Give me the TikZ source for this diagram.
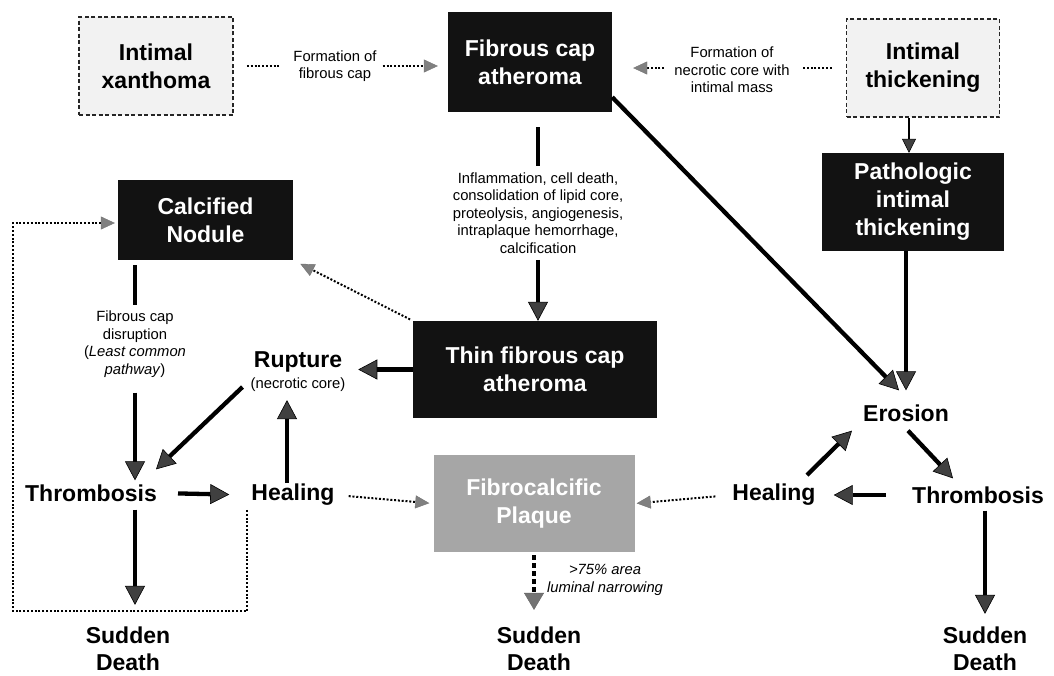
\documentclass[tikz,border=0pt]{standalone}
\usepackage{fontspec}
\setmainfont{Liberation Sans}
\usetikzlibrary{arrows.meta,calc}
\newcommand\BigTxt{\bfseries\fontsize{23}{28}\selectfont}
\newcommand\SdTxt{\bfseries\fontsize{23}{27}\selectfont}
\newcommand\SmTxt{\fontsize{14.8}{17.6}\selectfont}
\begin{document}
\begin{tikzpicture}[x=1pt,y=-1pt,
  blk/.style={fill=black!93, text=white, inner sep=0pt, align=center, font=\BigTxt},
  dsh/.style={draw=black!85, dash pattern=on 4pt off 2.5pt, line width=1.8pt, fill=black!5, inner sep=0pt, align=center, font=\BigTxt},
  gry/.style={fill=black!35, text=white, inner sep=0pt, align=center, font=\BigTxt},
  st/.style={align=center, font=\BigTxt, inner sep=1pt},
  sd/.style={align=center, font=\SdTxt, inner sep=0pt},
  lbl/.style={align=center, font=\SmTxt, inner sep=1pt},
  seg/.style={line width=4.3pt},
  thk/.style={line width=4.3pt, -{Triangle[length=19pt,width=20pt,line width=0.6pt,color=black,fill=black!75]}},
  thn/.style={line width=2pt, -{Triangle[length=14pt,width=14pt,line width=0.5pt,color=black,fill=black!75]}},
  dot/.style={line width=2pt, dash pattern=on 2pt off 1.8pt},
  dotarr/.style={dot, -{Triangle[length=14pt,width=13pt,line width=0.4pt,color=black!55,fill=black!50]}},
  dsharr/.style={line width=4.3pt, dash pattern=on 5pt off 3pt, -{Triangle[length=17pt,width=20pt,line width=0.4pt,color=black!60,fill=black!55]}}
]
\useasboundingbox (0,0) rectangle (1054,675);
\fill[white] (0,0) rectangle (1054,675);

% boxes
\node[dsh, minimum width=154pt, minimum height=98pt] (xan) at (156,66) {Intimal\\xanthoma};
\node[blk, minimum width=164pt, minimum height=100pt] (fca) at (530,62) {Fibrous cap\\atheroma};
\node[dsh, minimum width=153pt, minimum height=98pt] (ith) at (923,68) {Intimal\\thickening};
\node[blk, minimum width=182pt, minimum height=98pt] (pit) at (913,202) {Pathologic\\intimal\\thickening};
\node[blk, minimum width=175pt, minimum height=80pt] (cn) at (205.5,220) {Calcified\\Nodule};
\node[blk, minimum width=244pt, minimum height=97pt] (tfca) at (535,369.5) {Thin fibrous cap\\atheroma};
\node[gry, minimum width=201pt, minimum height=97pt] (fcp) at (534,503.5) {Fibrocalcific\\Plaque};

% states
\node[st] (ero) at (906,413) {Erosion};
\node[st] (healR) at (774,495) {Healing};
\node[st] (thrR) at (978,495) {Thrombosis};
\node[sd] (sdR) at (985,649) {Sudden\\Death};
\node[st] (healL) at (293,495) {Healing};
\node[st] (thrL) at (91,493) {Thrombosis};
\node[sd] (sdL) at (128,649) {Sudden\\Death};
\node[sd] (sdM) at (539,649) {Sudden\\Death};
\node[st] (rup) at (298,362) {Rupture};
\node[lbl] (nc) at (298,385) {(necrotic core)};

% labels
\node[lbl] (f1) at (335,66) {Formation of\\fibrous cap};
\node[lbl] (f2) at (732,70) {Formation of\\necrotic core with\\intimal mass};
\node[lbl] (infl) at (538,213) {Inflammation, cell death,\\consolidation of lipid core,\\proteolysis, angiogenesis,\\intraplaque hemorrhage,\\calcification};
\node[lbl] (fcd) at (135,344) {Fibrous cap\\disruption\\(\textit{Least common}\\\textit{pathway})};
\node[lbl, font=\SmTxt\itshape] (nar) at (605,580) {>75\% area\\luminal narrowing};

% top dotted connectors
\draw[dot, shorten <=13pt, shorten >=12pt] (xan.east) -- (f1.west);
\draw[dotarr, shorten <=5pt, shorten >=10pt] (f1.east) -- (f1.east -| fca.west);
\draw[dot, shorten <=14pt, shorten >=12pt] (ith.west) -- (ith.west -| f2.east);
\draw[dotarr, shorten <=9pt, shorten >=21pt] (f2.west |- ith.west) -- (fca.east |- ith.west);

% fibrous cap atheroma -> thin fibrous cap atheroma
\draw[seg, shorten <=15pt, shorten >=5pt] (infl.north |- fca.south) -- (infl.north);
\draw[thk, shorten <=5pt] (infl.south) -- (infl.south |- tfca.north);

% fibrous cap atheroma -> erosion
\draw[thk] ([yshift=15pt]fca.south east) -- ([shift={(-7pt,13pt)}]ero.north);

% intimal thickening -> pathologic -> erosion
\draw[thn] ([xshift=-4pt]pit.north |- ith.south) -- ([xshift=-4pt]pit.north);
\draw[thk, shorten >=13pt] (ero.north |- pit.south) -- (ero.north);

% calcified nodule -> thrombosis
\draw[seg, shorten <=5pt, shorten >=5pt] (fcd.north |- cn.south) -- (fcd.north);
\draw[thk, shorten <=14pt, shorten >=3pt] (fcd.south) -- (fcd.south |- thrL.north);
\draw[thk, shorten <=7pt, shorten >=22pt] (fcd.south |- thrL.south) -- (fcd.south |- sdL.north);

% left cycle
\draw[thk, shorten <=20pt, shorten >=21pt] (thrL.east) -- (healL.west);
\draw[thk, shorten >=7pt] ([xshift=-6pt]healL.north) -- ([xshift=-6pt]healL.north |- nc.south);
\draw[thk] ([shift={(-7pt,-2pt)}]nc.west) -- ([shift={(-2pt,14pt)}]thrL.north east);
\draw[thk, shorten >=15pt] (tfca.west) -- (rup.east |- tfca.west);
\draw[dotarr, shorten <=3pt, shorten >=8pt] (tfca.north west) -- (cn.south east);
\draw[dotarr, shorten <=13pt, shorten >=4pt] (healL.east) -- (fcp.west);
\coordinate (lp) at (13,611);
\draw[dotarr, shorten >=3pt] ([shift={(-3pt,-3pt)}]healL.south west) |- (lp) |- ([yshift=-3pt]cn.west);

% fibrocalcific -> sudden death
\draw[dsharr, shorten <=3pt, shorten >=17pt] (fcp.south) -- (fcp.south |- sdM.north);

% right cycle
\draw[dotarr, shorten <=16pt, shorten >=2pt] (healR.west) -- (fcp.east);
\draw[thk, shorten <=25pt, shorten >=17pt] (thrR.west) -- (healR.east);
\draw[thk] ([shift={(33pt,8pt)}]healR.north) -- ([shift={(-10pt,-8pt)}]ero.south west);
\draw[thk] ([shift={(2pt,-8pt)}]ero.south) -- ([shift={(-25pt,7pt)}]thrR.north);
\draw[thk, shorten <=6pt, shorten >=13pt] (sdR.north |- thrR.south) -- (sdR.north);
\end{tikzpicture}
\end{document}
